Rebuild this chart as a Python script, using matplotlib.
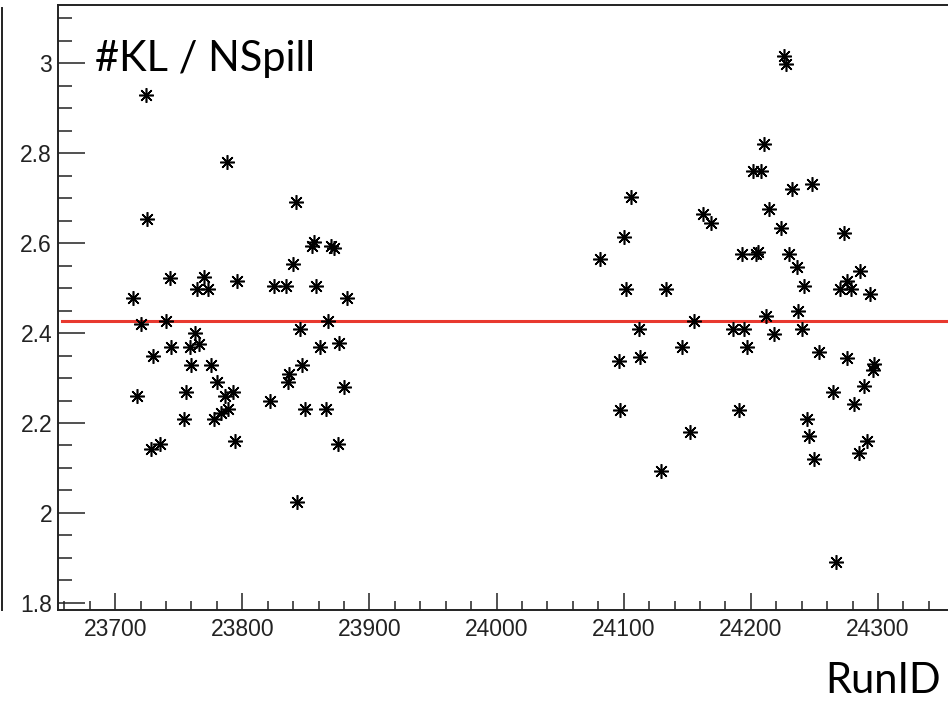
#! /usr/bin/env python3

import matplotlib
matplotlib.use('Agg')
import matplotlib.pyplot as plt
from matplotlib.ticker import MultipleLocator, FuncFormatter
from matplotlib.lines import Line2D

# run numbers and #KL / NSpill values
run_id = [23714, 23717, 23720, 23724, 23725, 23728, 23730, 23735, 23740, 23743,
          23744, 23754, 23756, 23759, 23760, 23763, 23766, 23770, 23764, 23773,
          23775, 23778, 23780, 23783, 23786, 23788, 23789, 23793, 23794, 23796,
          23822, 23825, 23834, 23836, 23837, 23840, 23842, 23843, 23845, 23847,
          23849, 23855, 23856, 23858, 23861, 23866, 23867, 23870, 23872, 23875,
          23876, 23880, 23882,
          24081, 24096, 24097, 24100, 24102, 24106, 24112, 24113, 24129, 24133,
          24146, 24152, 24155, 24162, 24169, 24186, 24195, 24191, 24193, 24197,
          24202, 24208, 24204, 24206, 24210, 24212, 24214, 24218, 24224, 24226,
          24228, 24230, 24232, 24236, 24237, 24240, 24242, 24244, 24246, 24248,
          24250, 24254, 24265, 24267, 24270, 24273, 24276, 24276, 24279, 24281,
          24285, 24286, 24289, 24291, 24294, 24296, 24297]
kl_per_spill = [2.478, 2.260, 2.419, 2.930, 2.653, 2.142, 2.348, 2.153, 2.427, 2.522,
                2.370, 2.210, 2.270, 2.370, 2.330, 2.399, 2.376, 2.524, 2.498, 2.498,
                2.330, 2.210, 2.292, 2.222, 2.260, 2.781, 2.231, 2.270, 2.160, 2.516,
                2.249, 2.504, 2.504, 2.292, 2.309, 2.554, 2.692, 2.025, 2.408, 2.330,
                2.231, 2.593, 2.603, 2.504, 2.370, 2.231, 2.427, 2.593, 2.590, 2.153,
                2.377, 2.281, 2.478,
                2.564, 2.338, 2.230, 2.614, 2.497, 2.703, 2.408, 2.347, 2.093, 2.497,
                2.369, 2.181, 2.427, 2.664, 2.644, 2.408, 2.408, 2.230, 2.576, 2.369,
                2.760, 2.760, 2.576, 2.580, 2.820, 2.438, 2.675, 2.397, 2.633, 3.016,
                2.998, 2.576, 2.720, 2.547, 2.448, 2.408, 2.504, 2.210, 2.171, 2.731,
                2.121, 2.358, 2.270, 1.892, 2.497, 2.622, 2.515, 2.344, 2.497, 2.242,
                2.133, 2.537, 2.282, 2.160, 2.486, 2.318, 2.332]

# constant fit
fit_value = 2.427
fit_range = [23658, 24400]

x_range = [23655, 24396]
y_range = [1.7844, 3.129]

W, H = 948, 703
fig = plt.figure(figsize=(W / 100, H / 100), dpi=100)
ax = fig.add_axes([58 / W, (H - 610) / H, (1000 - 58) / W, 605 / H])

star = (8, 2, 0)
ax.plot(run_id, kl_per_spill, linestyle='none', marker=star, markersize=10.5,
        markeredgewidth=1.15, color='black', zorder=3)
ax.plot(run_id, kl_per_spill, linestyle='none', marker='o', markersize=2.5,
        color='black', zorder=3)
ax.plot(fit_range, [fit_value, fit_value], color='#e8392f', linewidth=2.2, zorder=2)

ax.set_xlim(x_range)
ax.set_ylim(y_range)

ax.xaxis.set_major_locator(MultipleLocator(100))
ax.xaxis.set_minor_locator(MultipleLocator(20))
ax.yaxis.set_major_locator(MultipleLocator(0.2))
ax.yaxis.set_minor_locator(MultipleLocator(0.05))
ax.yaxis.set_major_formatter(FuncFormatter(lambda v, p: '%g' % round(v, 2)))

for s in ax.spines.values():
    s.set_linewidth(1.4)
    s.set_color('#222222')

ax.tick_params(axis='both', which='both', direction='in', color='#222222',
               labelsize=16.5, top=False, right=False)
ax.tick_params(axis='y', which='major', length=19.5, width=1.1, pad=4.3)
ax.tick_params(axis='y', which='minor', length=10, width=1.1)
ax.tick_params(axis='x', which='major', length=12.2, width=1.1, pad=5.8)
ax.tick_params(axis='x', which='minor', length=6.5, width=1.1)
for lab in ax.get_xticklabels() + ax.get_yticklabels():
    lab.set_fontfamily('Liberation Sans')
    lab.set_color('#222222')

fig.text(95 / W, 1 - 71 / H, '#KL / NSpill', fontsize=30, family='Lato',
         ha='left', va='baseline')
fig.text(825 / W, 1 - 693 / H, 'RunID', fontsize=30, family='Lato',
         ha='left', va='baseline')

# leftover frame edge at the far left
fig.add_artist(Line2D([1.5 / W, 1.5 / W], [1 - 8 / H, 1 - 610 / H],
                      transform=fig.transFigure, color='#222222', linewidth=1.4))

plt.savefig('out.png', dpi=100)
